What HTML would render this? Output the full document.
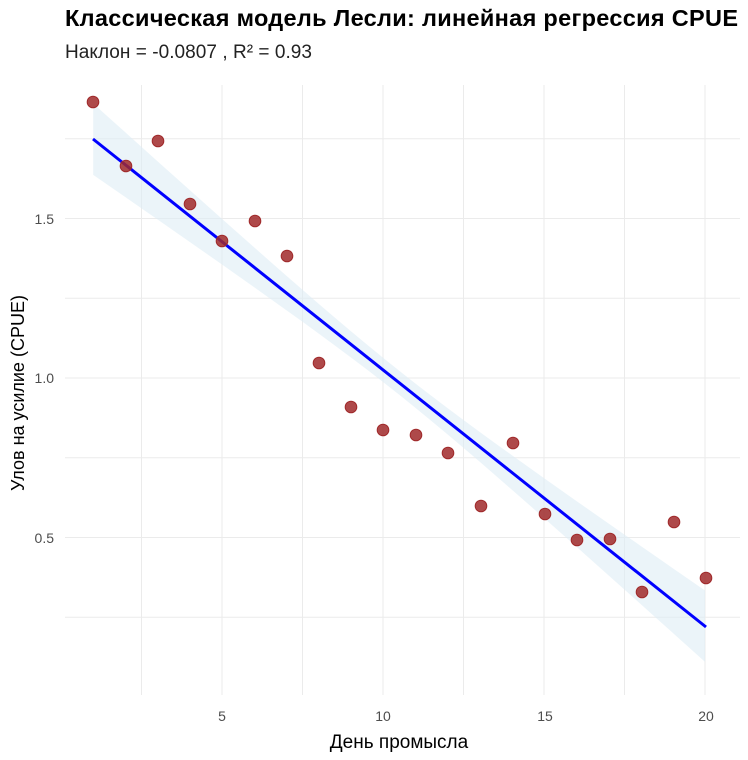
<!DOCTYPE html><html><head><meta charset="utf-8"><style>body{margin:0;background:#fff}svg{display:block;font-family:"Liberation Sans","Noto Sans CJK SC",sans-serif}</style></head><body>
<svg id="s" width="748" height="760" viewBox="0 0 748 760">
<rect width="748" height="760" fill="#fff"/>
<g id="grid" stroke="#ebebeb" stroke-width="1"></g>
<path id="rib" fill="#deedf5" fill-opacity="0.6"/>
<line x1="93" y1="139" x2="706" y2="627" stroke="#0000ff" stroke-width="3"/>
<g id="pts" fill="#a0292a" fill-opacity="0.85" stroke="#a0292a" stroke-width="1"></g>
<text x="65" y="26" font-size="23.5" font-weight="bold" fill="#000" textLength="673">Классическая модель Лесли: линейная регрессия CPUE</text>
<text x="65" y="58" font-size="19" fill="#222" textLength="247">Наклон = -0.0807 , R² = 0.93</text>
<g font-size="14" fill="#4d4d4d" text-anchor="end">
<text x="54" y="224">1.5</text><text x="54" y="383">1.0</text><text x="54" y="543">0.5</text></g>
<g font-size="14" fill="#4d4d4d" text-anchor="middle">
<text x="222" y="721">5</text><text x="383" y="721">10</text><text x="545" y="721">15</text><text x="706" y="721">20</text></g>
<text x="399" y="748" font-size="19" text-anchor="middle" fill="#000">День промысла</text>
<text transform="translate(24,393) rotate(-90)" font-size="18" text-anchor="middle" fill="#000">Улов на усилие (CPUE)</text>
</svg>
<script>
(function(){
var g=document.getElementById('grid'),h='';
function X(d){return 222+(d-5)*32.2}function Y(v){return 378-(v-1)*319}
[0.25,0.5,0.75,1,1.25,1.5,1.75].forEach(function(v){h+='<line x1="65" x2="740" y1="'+Y(v)+'" y2="'+Y(v)+'"/>'});
[2.5,5,7.5,10,12.5,15,17.5,20].forEach(function(d){h+='<line y1="85" y2="695" x1="'+X(d)+'" x2="'+X(d)+'"/>'});
g.innerHTML=h;
var tp=[],bt=[];
for(var d=1;d<=20;d+=0.5){var x=X(d),y=139+(x-93)*(488/613),hw=Math.sqrt(144+12.5*Math.pow(d-10.5,2));tp.push(x+','+(y-hw));bt.unshift(x+','+(y+hw));}
document.getElementById('rib').setAttribute('d','M'+tp.join('L')+'L'+bt.join('L')+'Z');
var p=[[93,102],[126,166],[158,141],[190,204],[222,241],[255,221],[287,256],[319,363],[351,407],[383,430],[416,435],[448,453],[481,506],[513,443],[545,514],[577,540],[610,539],[642,592],[674,522],[706,578]],s='';
p.forEach(function(q){s+='<circle cx="'+q[0]+'" cy="'+q[1]+'" r="5.8"/>'});
document.getElementById('pts').innerHTML=s;
})();
</script>
</body></html>
